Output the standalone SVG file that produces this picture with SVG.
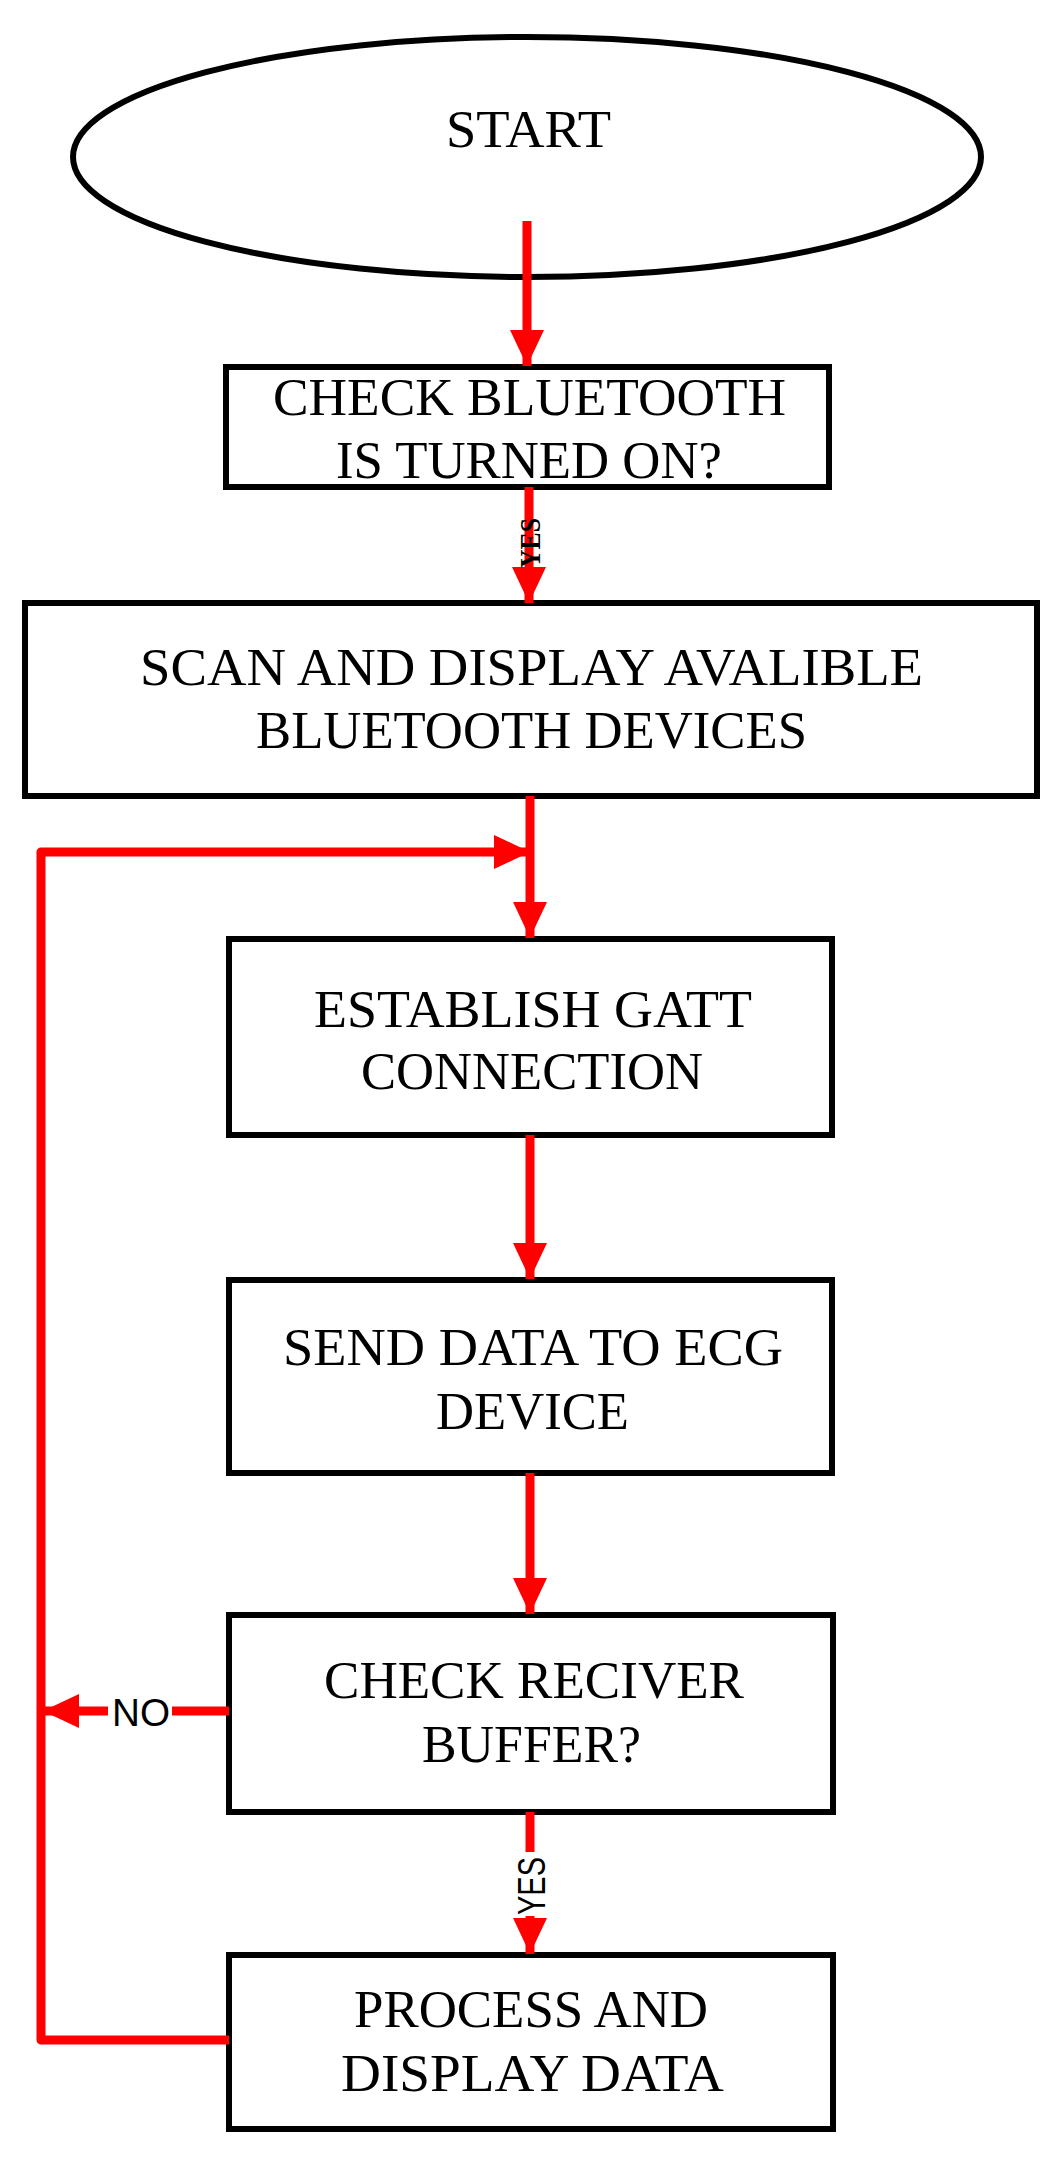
<svg xmlns="http://www.w3.org/2000/svg" width="1059" height="2157" viewBox="0 0 1059 2157">
<style>
.n{fill:#fff;stroke:#000;stroke-width:6}
.t{font-family:"Liberation Serif",serif;font-size:52px;fill:#000}
.c{fill:none;stroke:#f00;stroke-width:9;stroke-linejoin:round}
.s{font-family:"Liberation Sans",sans-serif;font-size:38px;fill:#000}
</style>
<defs>
<marker id="ah" markerUnits="userSpaceOnUse" markerWidth="40" markerHeight="40" refX="36" refY="17" orient="auto"><polygon points="0,0 36,17 0,34" fill="#f00"/></marker>
</defs>
<rect width="1059" height="2157" fill="#fff"/>
<g id="start"><ellipse class="n" cx="527" cy="157" rx="454" ry="120"/><text class="t" x="446" y="147" textLength="165" lengthAdjust="spacingAndGlyphs">START</text></g>
<g id="check-bt"><rect class="n" x="226" y="367" width="603" height="120"/><text class="t" x="273" y="415" textLength="513" lengthAdjust="spacingAndGlyphs">CHECK BLUETOOTH</text><text class="t" x="336" y="478" textLength="386" lengthAdjust="spacingAndGlyphs">IS TURNED ON?</text></g>
<g id="scan"><rect class="n" x="25" y="603" width="1012" height="193"/><text class="t" x="140" y="685" textLength="783" lengthAdjust="spacingAndGlyphs">SCAN AND DISPLAY AVALIBLE</text><text class="t" x="256" y="748" textLength="551" lengthAdjust="spacingAndGlyphs">BLUETOOTH DEVICES</text></g>
<g id="gatt"><rect class="n" x="229" y="939" width="603" height="196"/><text class="t" x="314" y="1027" textLength="438" lengthAdjust="spacingAndGlyphs">ESTABLISH GATT</text><text class="t" x="361" y="1089" textLength="342" lengthAdjust="spacingAndGlyphs">CONNECTION</text></g>
<g id="send"><rect class="n" x="229" y="1280" width="603" height="193"/><text class="t" x="283" y="1365" textLength="500" lengthAdjust="spacingAndGlyphs">SEND DATA TO ECG</text><text class="t" x="436" y="1429" textLength="193" lengthAdjust="spacingAndGlyphs">DEVICE</text></g>
<g id="buffer"><rect class="n" x="229" y="1615" width="604" height="197"/><text class="t" x="324" y="1698" textLength="420" lengthAdjust="spacingAndGlyphs">CHECK RECIVER</text><text class="t" x="422" y="1762" textLength="219" lengthAdjust="spacingAndGlyphs">BUFFER?</text></g>
<g id="process"><rect class="n" x="229" y="1955" width="604" height="174"/><text class="t" x="354" y="2027" textLength="354" lengthAdjust="spacingAndGlyphs">PROCESS AND</text><text class="t" x="341" y="2091" textLength="383" lengthAdjust="spacingAndGlyphs">DISPLAY DATA</text></g>
<g id="connectors">
<line class="c" x1="527" y1="221" x2="527" y2="366" marker-end="url(#ah)"/>
<line class="c" x1="529" y1="487" x2="529" y2="603" marker-end="url(#ah)"/>
<line class="c" x1="530" y1="796" x2="530" y2="938" marker-end="url(#ah)"/>
<polyline class="c" points="229,2040 41,2040 41,852 530,852" marker-end="url(#ah)"/>
<line class="c" x1="530" y1="1135" x2="530" y2="1279" marker-end="url(#ah)"/>
<line class="c" x1="530" y1="1473" x2="530" y2="1614" marker-end="url(#ah)"/>
<line class="c" x1="229" y1="1711" x2="172" y2="1711"/>
<line class="c" x1="108" y1="1711" x2="43" y2="1711" marker-end="url(#ah)"/>
<line class="c" x1="530" y1="1812" x2="530" y2="1852"/>
<line class="c" x1="530" y1="1916" x2="530" y2="1954" marker-end="url(#ah)"/>
<text class="s" x="112" y="1726" textLength="58" lengthAdjust="spacingAndGlyphs">NO</text>
<text class="s" transform="translate(545,1915) rotate(-90)" textLength="58" lengthAdjust="spacingAndGlyphs">YES</text>
<text font-family="Liberation Serif,serif" font-weight="bold" font-size="30" transform="translate(540,568) rotate(-90)" textLength="50" lengthAdjust="spacingAndGlyphs">YES</text>
</g>
</svg>
